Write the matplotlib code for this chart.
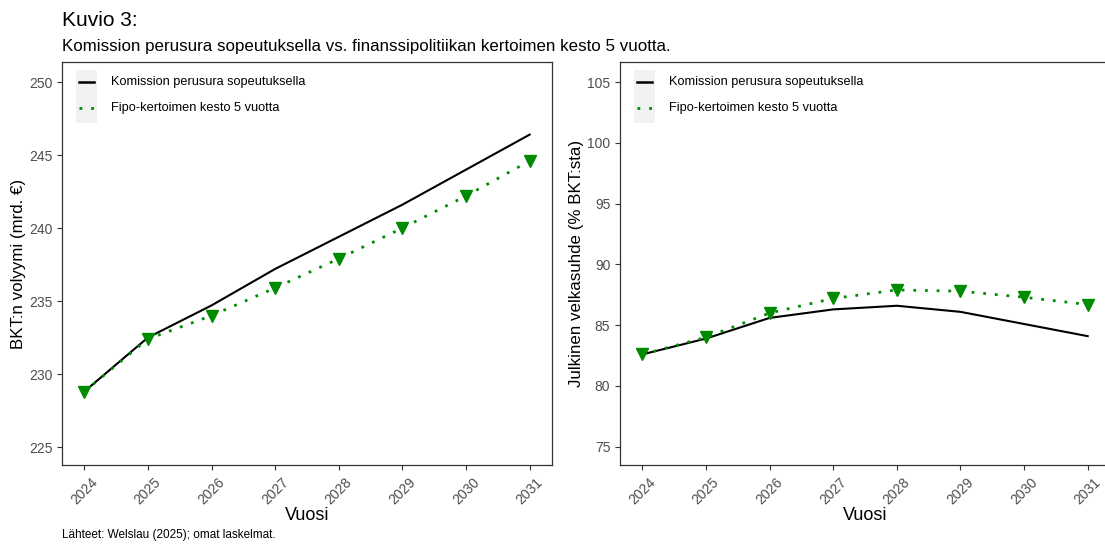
import matplotlib
matplotlib.use("Agg")
import matplotlib.pyplot as plt
from matplotlib.patches import Rectangle

plt.rcParams['font.family'] = ['Liberation Sans', 'DejaVu Sans']

# Data
years = [2024, 2025, 2026, 2027, 2028, 2029, 2030, 2031]
bkt_komissio = [228.8, 232.5, 234.7, 237.2, 239.4, 241.6, 244.0, 246.4]
bkt_fipo = [228.8, 232.4, 234.0, 235.9, 237.9, 240.0, 242.2, 244.6]
velka_komissio = [82.6, 83.9, 85.6, 86.3, 86.6, 86.1, 85.1, 84.1]
velka_fipo = [82.6, 84.0, 86.0, 87.2, 87.9, 87.8, 87.3, 86.7]

series_names = ["Komission perusura sopeutuksella", "Fipo-kertoimen kesto 5 vuotta"]
green = "#008B00"
frame_col = "#333333"
tick_col = "#4D4D4D"

fig = plt.figure(figsize=(11.05, 5.47), dpi=100)
ax1 = fig.add_axes([0.0561, 0.1499, 0.4434, 0.7367])
ax2 = fig.add_axes([0.5611, 0.1499, 0.4434, 0.7367])


def draw_panel(ax, base, alt, ylim, yticks, ylabel):
    ax.plot(years, base, color="black", lw=1.5, zorder=2)
    ax.plot(years, alt, color=green, lw=2, linestyle=(0, (1, 3.2)), zorder=3)
    ax.plot(years, alt, linestyle="none", marker="v", color=green, markersize=8, zorder=4)

    ax.set_xlim(2024 - 0.35, 2031 + 0.35)
    ax.set_ylim(*ylim)
    ax.set_xticks(years)
    ax.set_xticklabels([str(y) for y in years], rotation=45, ha="center", va="top")
    ax.set_yticks(yticks)
    ax.tick_params(axis="both", colors=frame_col, labelcolor=tick_col,
                   labelsize=10, length=3.5, width=0.8)
    ax.tick_params(axis="x", labelsize=10, pad=4)
    for s in ax.spines.values():
        s.set_color(frame_col)
        s.set_linewidth(0.9)
    ax.set_xlabel("Vuosi", fontsize=13, labelpad=0)
    ax.set_ylabel(ylabel, fontsize=12.2, labelpad=2)

    # legend keys in the top left corner
    ax.add_patch(Rectangle((0.0286, 0.849), 0.0425, 0.131, transform=ax.transAxes,
                           facecolor="#F2F2F2", edgecolor="none", zorder=1))
    ax.plot([0.034, 0.066], [0.950, 0.950], transform=ax.transAxes,
            color="black", lw=1.8)
    ax.plot([0.034, 0.066], [0.886, 0.886], transform=ax.transAxes,
            color=green, lw=2, linestyle=(0, (1, 3.2)))
    ax.text(0.1, 0.950, series_names[0], transform=ax.transAxes,
            fontsize=9.2, va="center", ha="left")
    ax.text(0.1, 0.886, series_names[1], transform=ax.transAxes,
            fontsize=9.2, va="center", ha="left")


draw_panel(ax1, bkt_komissio, bkt_fipo, (223.77, 251.37),
           [225, 230, 235, 240, 245, 250], "BKT:n volyymi (mrd. €)")
draw_panel(ax2, velka_komissio, velka_fipo, (73.5, 106.65),
           [75, 80, 85, 90, 95, 100, 105], "Julkinen velkasuhde (% BKT:sta)")

fig.text(0.0561, 0.962, "Kuvio 3:", fontsize=15, ha="left", va="center")
fig.text(0.0561, 0.915,
         "Komission perusura sopeutuksella vs. finanssipolitiikan kertoimen kesto 5 vuotta.",
         fontsize=12.2, ha="left", va="center")
fig.text(0.0561, 0.022, "Lähteet: Welslau (2025); omat laskelmat.",
         fontsize=8.5, ha="left", va="center")

fig.savefig("out.png", dpi=100)
